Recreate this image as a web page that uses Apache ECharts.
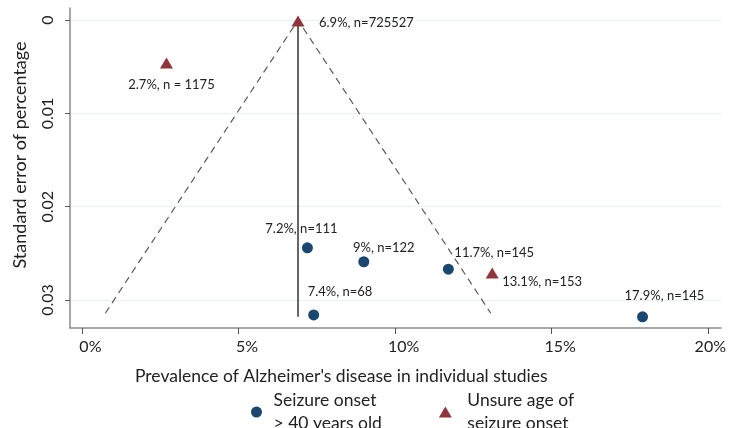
<!DOCTYPE html>
<html>
<head>
<meta charset="utf-8">
<script src="https://cdn.jsdelivr.net/npm/echarts@6/dist/echarts.min.js"></script>
<style>
html,body{margin:0;padding:0;background:#fff;}
#chart{width:729px;height:428px;}
</style>
</head>
<body>
<div id="chart"></div>
<script>
// ---- data ----
var xTicks = [0, 5, 10, 15, 20];
var yTicks = [0, 0.01, 0.02, 0.03];

var onsetName = "Seizure onset\n> 40 years old";
var onsetX = [7.2, 9.0, 11.7, 7.4, 17.9];
var onsetSE = [0.0244, 0.0259, 0.0267, 0.0316, 0.0318];
var onsetLabels = ["7.2%, n=111", "9%, n=122", "11.7%, n=145", "7.4%, n=68", "17.9%, n=145"];

var unsureName = "Unsure age of\nseizure onset";
var unsureX = [6.9, 2.7, 13.1];
var unsureSE = [0.0001, 0.0046, 0.0271];
var unsureLabels = ["6.9%, n=725527", "2.7%, n = 1175", "13.1%, n=153"];

var funnelX = [0.75, 6.9, 13.05];
var funnelSE = [0.0314, 0, 0.0314];
var pooledX = [6.9, 6.9];
var pooledSE = [0, 0.0318];

// ---- label placement (style) ----
var onsetLabelPos = [[-6, -19, 'center'], [20, -14, 'center'], [6, -16, 'left'], [-6, -23, 'left'], [-18, -21, 'left']];
var unsureLabelPos = [[21, 2, 'left'], [5, 22, 'center'], [10, 9, 'left']];

var FONT = "Lato, 'Noto Sans', sans-serif";
var TXT = '#222222';
var NAVY = '#1a476f';
var MAROON = '#90353b';

function pts(xs, ys, labels, pos) {
  return xs.map(function (x, i) {
    return {
      value: [x, ys[i]],
      label: { show: true, formatter: labels[i], position: 'inside', offset: [pos[i][0], pos[i][1]], align: pos[i][2], verticalAlign: 'middle' }
    };
  });
}
function pairs(xs, ys) { return xs.map(function (x, i) { return [x, ys[i]]; }); }

var labelStyle = { fontFamily: FONT, fontSize: 13, color: TXT };

var chart = echarts.init(document.getElementById('chart'), null, { renderer: 'canvas' });
chart.setOption({
  animation: false,
  backgroundColor: '#ffffff',
  textStyle: { fontFamily: FONT },
  grid: { left: 70, top: 8, right: 6, bottom: 100 },
  xAxis: {
    type: 'value', min: -0.38, max: 20.41,
    axisLine: { show: true, onZero: false, lineStyle: { color: '#8a8a8a', width: 1.5 } },
    axisTick: { show: true, customValues: xTicks, length: 6, lineStyle: { color: '#555' } },
    axisLabel: {
      customValues: xTicks, margin: 11,
      formatter: function (v) { return (v === 20 ? '{b|' : '{a|') + v + '%}'; },
      rich: {
        a: { fontFamily: FONT, fontSize: 16, color: TXT, padding: [0, 0, 0, 17] },
        b: { fontFamily: FONT, fontSize: 16, color: TXT, padding: [0, 0, 0, 4] }
      }
    },
    splitLine: { show: false }
  },
  yAxis: {
    type: 'value', inverse: true, min: -0.0013, max: 0.0330,
    axisLine: { show: true, onZero: false, lineStyle: { color: '#8a8a8a', width: 1.5 } },
    axisTick: { show: true, customValues: yTicks, length: 5, lineStyle: { color: '#555' } },
    axisLabel: { customValues: yTicks, rotate: 90, fontFamily: FONT, fontSize: 16, color: TXT, margin: 14, formatter: function (v) { return String(v); } },
    splitLine: { show: true, lineStyle: { color: '#eaf1f1', width: 1.2 } }
  },
  legend: {
    left: 246, top: 384,
    itemWidth: 24, itemHeight: 11, itemGap: 57,
    symbolKeepAspect: true,
    itemStyle: { borderWidth: 0 },
    textStyle: { fontFamily: FONT, fontSize: 17.5, color: TXT, lineHeight: 23 },
    data: [
      { name: onsetName, icon: 'circle' },
      { name: unsureName, icon: 'path://M0,11L6.5,0L13,11Z', textStyle: { padding: [0, 0, 0, 5] } }
    ]
  },
  graphic: [
    { type: 'text', x: 135, y: 376, style: { text: "Prevalence of Alzheimer's disease in individual studies", font: "17.5px " + FONT, fill: TXT, verticalAlign: 'middle' } },
    { type: 'text', x: 20, y: 155, rotation: Math.PI / 2, style: { text: 'Standard error of percentage', font: "18px " + FONT, fill: TXT, align: 'center', verticalAlign: 'middle' } }
  ],
  series: [
    {
      type: 'line', data: pairs(funnelX, funnelSE), symbol: 'none', silent: true, z: 1,
      lineStyle: { color: '#5a5a5a', width: 1.2, type: [7, 5] }
    },
    {
      type: 'line', data: pairs(pooledX, pooledSE), symbol: 'none', silent: true, z: 1,
      lineStyle: { color: '#000000', width: 1.2 }
    },
    {
      name: onsetName, type: 'scatter', symbol: 'circle', symbolSize: 11, z: 3,
      itemStyle: { color: NAVY, opacity: 1 },
      label: labelStyle,
      data: pts(onsetX, onsetSE, onsetLabels, onsetLabelPos)
    },
    {
      name: unsureName, type: 'scatter', symbol: 'triangle', symbolSize: [13, 11], z: 3,
      itemStyle: { color: MAROON, opacity: 1 },
      label: labelStyle,
      data: pts(unsureX, unsureSE, unsureLabels, unsureLabelPos)
    }
  ]
});
</script>
</body>
</html>
